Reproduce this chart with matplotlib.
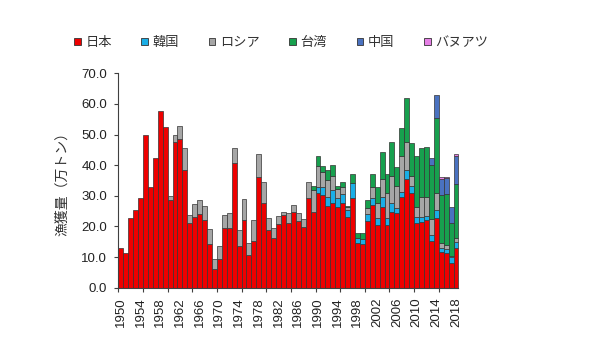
import matplotlib
matplotlib.use('Agg')
import matplotlib.pyplot as plt
from matplotlib.patches import Patch
from matplotlib.ticker import FixedLocator, FormatStrFormatter
import numpy as np

plt.rcParams['font.family'] = ['Liberation Sans', 'Noto Sans CJK JP', 'DejaVu Sans']

years = list(range(1950, 2019))

series_names = ['日本', '韓国', 'ロシア', '台湾', '中国', 'バヌアツ']
series_colors = ['#EE0000', '#1AAEE6', '#A6A6A6', '#17A04E', '#4A72C0', '#E680E6']

japan = [12.8, 11.2, 22.6, 25.4, 29.4, 49.8, 32.8, 42.2, 57.7, 52.6,
         28.6, 47.7, 48.5, 38.4, 21.1, 23.2, 24.1, 22.1, 14.3, 6.2,
         9.5, 19.4, 19.5, 40.7, 13.6, 22.2, 10.7, 15.4, 36.0, 27.8,
         18.7, 16.1, 20.7, 23.7, 21.0, 24.6, 21.8, 19.7, 29.3, 24.8,
         30.8, 30.2, 26.7, 27.7, 26.4, 27.5, 23.0, 29.2, 14.5, 14.3,
         21.8, 27.0, 20.5, 26.4, 20.5, 24.8, 24.5, 29.5, 35.4, 31.0,
         21.0, 21.6, 22.1, 15.1, 22.9, 11.5, 11.2, 8.0, 13.0]

korea = [0.0] * 40 + [
         2.2, 2.8, 3.0, 4.2, 2.8, 3.0, 2.4, 4.9, 1.6, 1.6,
         2.2, 2.2, 2.1, 3.3, 2.1, 2.7, 1.4, 1.8, 3.0, 2.2,
         2.2, 1.6, 1.4, 2.1, 2.5, 1.3, 1.4, 2.0, 2.0]

russia = [0.0] * 10 + [
         1.4, 2.1, 4.4, 7.3, 2.5, 4.1, 4.4, 4.7, 4.9, 3.2,
         4.2, 4.3, 4.8, 5.0, 5.1, 6.8, 3.9, 6.6, 7.7, 6.8,
         3.9, 3.3, 2.7, 1.1, 3.3, 2.4, 2.6, 2.6, 5.3, 7.1,
         6.7, 4.9, 5.4, 4.6, 2.9, 2.5, 0.9, 0.0, 0.0, 0.0,
         1.9, 3.8, 4.9, 5.7, 8.2, 9.0, 7.3, 11.7, 9.3, 3.3,
         3.2, 6.4, 6.2, 5.1, 5.6, 1.7, 1.4, 0.2, 1.1]

taiwan = [0.0] * 39 + [
         1.3,
         3.4, 1.8, 3.3, 3.5, 1.1, 1.4, 0.4, 2.9, 1.6, 1.8,
         2.7, 4.1, 5.5, 9.0, 6.2, 11.2, 6.1, 9.0, 14.1, 10.8,
         16.6, 15.9, 16.3, 17.7, 24.3, 15.7, 16.5, 10.8, 17.7]

china = [0.0] * 63 + [2.2, 7.6, 5.4, 5.3, 5.4, 9.2]

vanuatu = [0.0] * 65 + [0.4, 0.4, 0.0, 0.5]

label_years = list(range(1950, 2019, 4))
yticks = [0, 10, 20, 30, 40, 50, 60, 70]

W, H = 600, 347
fig = plt.figure(figsize=(6.0, 3.47), dpi=100)
ax = fig.add_axes([118.3 / W, 1 - 287.7 / H, (458.5 - 118.3) / W, (287.7 - 73.3) / H])

x = np.array(years, dtype=float)
bottom = np.zeros(len(years))
handles = []
for name, vals, col in zip(series_names, [japan, korea, russia, taiwan, china, vanuatu], series_colors):
    v = np.array(vals, dtype=float)
    m = v > 0
    ax.bar(x[m], v[m], width=1.0, bottom=bottom[m], color=col,
           edgecolor='#333333', linewidth=0.5, zorder=2)
    bottom = bottom + v
    handles.append(Patch(facecolor=col, edgecolor='#333333', linewidth=0.6))

ax.set_xlim(years[0] - 0.5, years[-1] + 0.5)
ax.set_ylim(0, 70)

ax.set_xticks(label_years)
ax.set_xticklabels([str(y) for y in label_years], rotation=90, fontsize=9.5, color='#222222')
ax.xaxis.set_minor_locator(FixedLocator(np.arange(years[0] - 0.5, years[-1] + 0.6, 5)))
ax.tick_params(axis='x', which='major', length=0, pad=7)
ax.tick_params(axis='x', which='minor', length=3, width=0.8, color='#404040', direction='out')

ax.set_yticks(yticks)
ax.yaxis.set_major_formatter(FormatStrFormatter('%.1f'))
ax.tick_params(axis='y', which='major', length=3, width=0.8, color='#404040', pad=5,
               labelsize=9.5, labelcolor='#222222')

for s in ['top', 'right']:
    ax.spines[s].set_visible(False)
for s in ['left', 'bottom']:
    ax.spines[s].set_color('#404040')
    ax.spines[s].set_linewidth(0.8)

ax.set_ylabel('漁獲量（万トン）', fontsize=10, color='#333333')
ax.yaxis.set_label_coords(-0.145, 0.5)

fig.legend(handles, series_names, loc='center left', bbox_to_anchor=(74 / W, 1 - 43 / H),
           ncol=6, frameon=False, fontsize=9.5, handlelength=0.5, handleheight=0.5,
           handletextpad=0.35, columnspacing=2.25, borderpad=0, borderaxespad=0,
           labelcolor='#333333')

fig.savefig('out.png', dpi=100)
